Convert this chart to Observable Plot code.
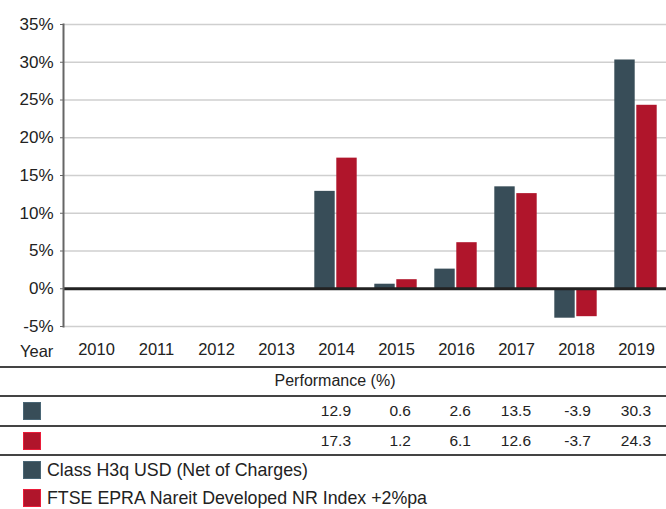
<!DOCTYPE html>
<html>
<head>
<meta charset="utf-8">
<script src="https://cdn.jsdelivr.net/npm/d3@7"></script>
<script src="https://cdn.jsdelivr.net/npm/@observablehq/plot@0.6"></script>
<style>
  html, body { margin: 0; padding: 0; background: #fff; }
  body { font-family: "Liberation Sans", Arial, sans-serif; color: #222; }
  #wrap { position: relative; width: 666px; height: 509px; overflow: hidden; }
  #wrap svg { position: absolute; left: 0; top: 0; }
  .t { position: absolute; display: flex; align-items: center; white-space: nowrap; }
  .hl { position: absolute; left: 0; width: 666px; background: #444; }
  .sw { position: absolute; width: 18px; height: 18px; box-sizing: border-box; }
</style>
</head>
<body>
<div id="wrap"></div>
<script>
const years = ["2010","2011","2012","2013","2014","2015","2016","2017","2018","2019"];
const fundValues  = [null, null, null, null, 12.9, 0.6, 2.6, 13.5, -3.9, 30.3];
const indexValues = [null, null, null, null, 17.3, 1.2, 6.1, 12.6, -3.7, 24.3];
const seriesNames = ["Class H3q USD (Net of Charges)", "FTSE EPRA Nareit Developed NR Index +2%pa"];
const seriesColors = ["#384d58", "#b0152b"];
const yTicks = [-5, 0, 5, 10, 15, 20, 25, 30, 35];
const tableTitle = "Performance (%)";
const xLabel = "Year";

const rows = [];
years.forEach((y, i) => {
  if (fundValues[i] != null) rows.push({year: y, series: seriesNames[0], value: fundValues[i]});
  if (indexValues[i] != null) rows.push({year: y, series: seriesNames[1], value: indexValues[i]});
});

const W = 666, H = 367;
const plot = Plot.plot({
  width: W,
  height: H,
  marginTop: 24,
  marginBottom: 41,
  marginLeft: 63,
  marginRight: 0,
  style: {fontFamily: "Liberation Sans, Arial, sans-serif", fontSize: "16px", color: "#222", background: "transparent"},
  x: {domain: years, range: [63, 669], padding: 0},
  y: {domain: [-5, 35]},
  marks: [
    Plot.gridY(yTicks, {stroke: "#cfcfcf", strokeOpacity: 1, strokeWidth: 1.5}),
    Plot.axisY(yTicks, {tickSize: 3, tickPadding: 7, tickFormat: d => d + "%", stroke: "#666", fill: "#222", fontSize: 17, label: null}),
    Plot.axisX({tickSize: 0, tickPadding: 17, fontSize: 16.5, fill: "#222", label: null}),
    Plot.barY(rows.filter(d => d.series === seriesNames[0]), {x: "year", y: "value", fill: seriesColors[0], insetLeft: 8.3, insetRight: 31.3}),
    Plot.barY(rows.filter(d => d.series === seriesNames[1]), {x: "year", y: "value", fill: seriesColors[1], insetLeft: 30.3, insetRight: 9.3}),
    Plot.ruleY([0], {stroke: "#222", strokeWidth: 3}),
    Plot.frame({anchor: "left", stroke: "#666", strokeWidth: 2})
  ]
});

const wrap = document.getElementById("wrap");
wrap.appendChild(plot);

const xs = plot.scale("x");
const bw = xs.bandwidth;
const cx = y => xs.apply(y) + bw / 2;

function text(str, opts) {
  const d = document.createElement("div");
  d.className = "t";
  d.textContent = str;
  d.style.fontSize = opts.size + "px";
  d.style.height = "24px";
  d.style.top = (opts.cy - 12) + "px";
  if (opts.align === "right") {
    d.style.right = (W - opts.x) + "px";
    d.style.justifyContent = "flex-end";
  } else if (opts.align === "center") {
    d.style.left = (opts.x - 150) + "px";
    d.style.width = "300px";
    d.style.justifyContent = "center";
  } else {
    d.style.left = opts.x + "px";
  }
  wrap.appendChild(d);
}
function hline(y, h) {
  const d = document.createElement("div");
  d.className = "hl";
  d.style.top = y + "px";
  d.style.height = h + "px";
  wrap.appendChild(d);
}
function swatch(color, top) {
  const d = document.createElement("div");
  d.className = "sw";
  d.style.left = "23px";
  d.style.top = top + "px";
  d.style.background = color;
  d.style.border = "1px solid " + d3.color(color).brighter(0.8).formatHex();
  wrap.appendChild(d);
}

// "Year" label
text(xLabel, {x: 20, cy: 351, size: 16.5});

// table
hline(366, 2);
text(tableTitle, {x: 335, cy: 381, size: 16, align: "center"});
hline(395, 1.5);
swatch(seriesColors[0], 402);
years.forEach((y, i) => { if (fundValues[i] != null) text(fundValues[i].toFixed(1), {x: cx(y) + 15, cy: 411, size: 15.5, align: "right"}); });
hline(425, 1.5);
swatch(seriesColors[1], 432);
years.forEach((y, i) => { if (indexValues[i] != null) text(indexValues[i].toFixed(1), {x: cx(y) + 15, cy: 441, size: 15.5, align: "right"}); });
hline(454, 1.5);

// legend
swatch(seriesColors[0], 461);
text(seriesNames[0], {x: 47, cy: 470, size: 17.8});
swatch(seriesColors[1], 489);
text(seriesNames[1], {x: 47, cy: 498, size: 17.8});
</script>
</body>
</html>
